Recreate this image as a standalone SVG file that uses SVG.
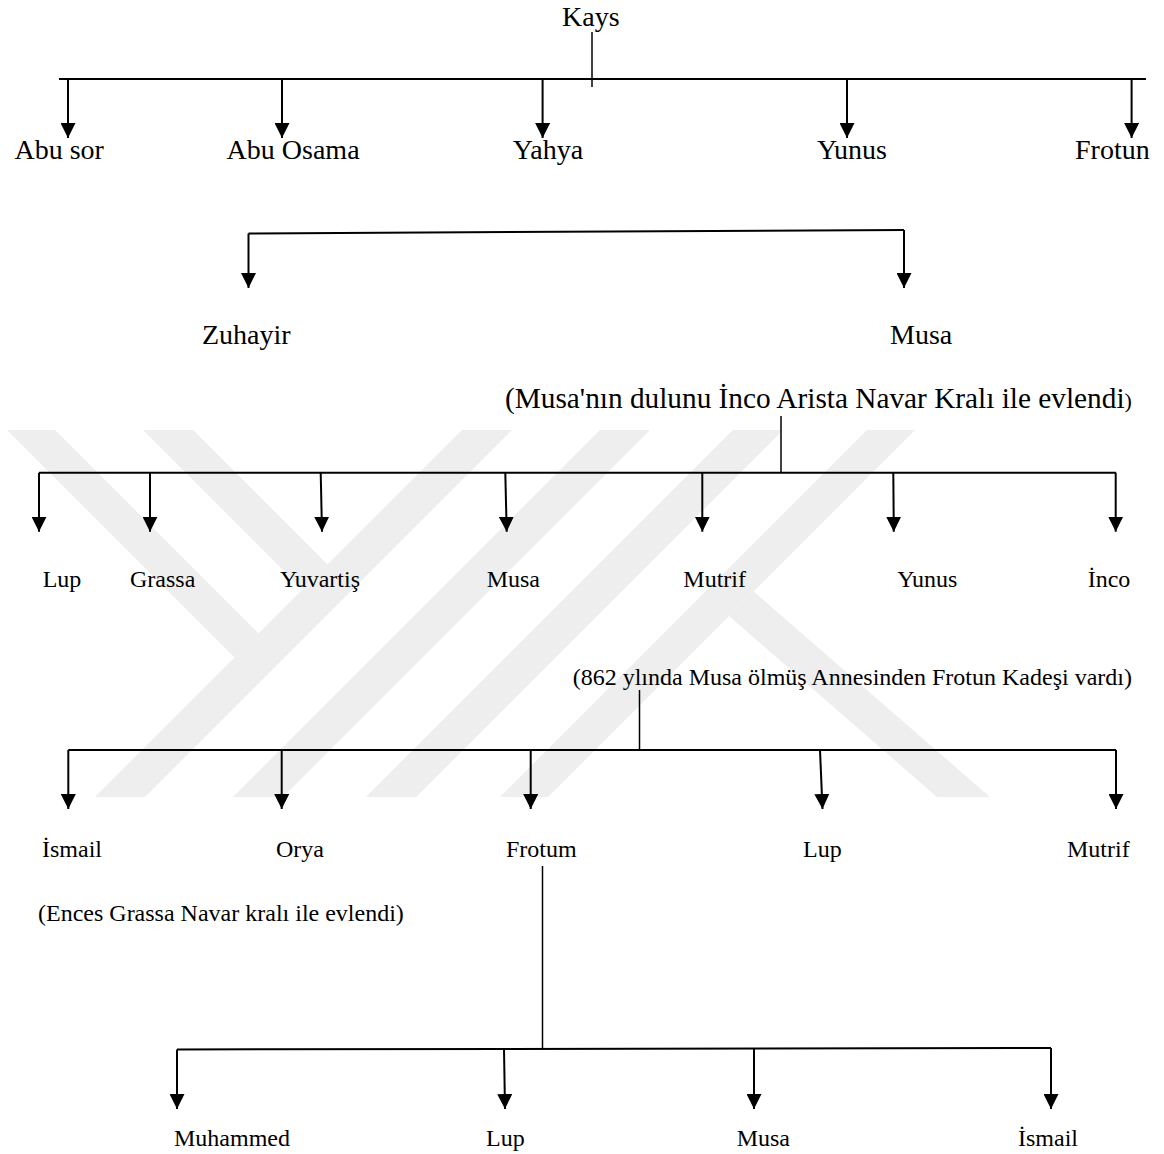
<svg xmlns="http://www.w3.org/2000/svg" width="1164" height="1154" viewBox="0 0 1164 1154">
<style>
text{font-family:"Liberation Serif","Times New Roman",serif;fill:#000}
.l1{font-size:28px}
.l2{font-size:24px}
.c{stroke:#000;stroke-width:2;fill:none}
.s{stroke:#000;stroke-width:1.5;fill:none}
.a{stroke:#000;stroke-width:2;fill:none;marker-end:url(#ah)}
.wm{fill:#eeeeee}
</style>
<defs>
<marker id="ah" viewBox="0 0 15 15" refX="15" refY="7.5" markerWidth="15" markerHeight="15" markerUnits="userSpaceOnUse" orient="auto">
<path d="M0,0 L15,7.5 L0,15 z" fill="#000"/>
</marker>
</defs>
<rect width="1164" height="1154" fill="#fff"/>
<g id="watermark">
<polygon class="wm" points="7,430 55,430 258.5,633.5 234.5,657.5"/>
<polygon class="wm" points="143,430 193,430 327.5,564.5 302.5,589.5"/>
<polygon class="wm" points="462,430 512,430 145,797 95,797"/>
<polygon class="wm" points="600,430 650,430 283,797 233,797"/>
<polygon class="wm" points="733,430 783,430 416,797 366,797"/>
<polygon class="wm" points="867,430 915,430 548,797 500,797"/>
<polygon class="wm" points="729,616 753.6,591.4 990,797 937,797"/>
</g>
<g id="connectors">
<line class="s" x1="592" y1="32" x2="592" y2="87"/>
<line class="c" x1="59" y1="79" x2="1146" y2="79"/>
<line class="a" x1="68" y1="79" x2="68" y2="138"/>
<line class="a" x1="282" y1="79" x2="282" y2="138"/>
<line class="a" x1="542.6" y1="79" x2="542.6" y2="138"/>
<line class="a" x1="847" y1="79" x2="847" y2="138"/>
<line class="a" x1="1131.6" y1="79" x2="1131.6" y2="138"/>
<line class="c" x1="248.5" y1="233.5" x2="904" y2="230"/>
<line class="a" x1="248.5" y1="233.5" x2="248.5" y2="288"/>
<line class="a" x1="904" y1="230" x2="904" y2="288"/>
<line class="s" x1="781" y1="416" x2="781" y2="472.7"/>
<line class="c" x1="39" y1="472.7" x2="1116" y2="472.7"/>
<line class="a" x1="39" y1="472.7" x2="39" y2="531.7"/>
<line class="a" x1="150" y1="472.7" x2="150" y2="531.7"/>
<line class="a" x1="320.7" y1="472.7" x2="322" y2="531.7"/>
<line class="a" x1="505.3" y1="472.7" x2="506.7" y2="531.7"/>
<line class="a" x1="702.3" y1="472.7" x2="702.3" y2="531.7"/>
<line class="a" x1="893.3" y1="472.7" x2="893.8" y2="531.7"/>
<line class="a" x1="1115.7" y1="472.7" x2="1115.7" y2="531.7"/>
<line class="s" x1="639.5" y1="690" x2="639.5" y2="750"/>
<line class="c" x1="68.3" y1="750" x2="1116" y2="750"/>
<line class="a" x1="68.3" y1="750" x2="68.3" y2="809"/>
<line class="a" x1="281.7" y1="750" x2="281.7" y2="809"/>
<line class="a" x1="530.7" y1="750" x2="530.7" y2="809"/>
<line class="a" x1="820" y1="750" x2="822.5" y2="809"/>
<line class="a" x1="1116" y1="750" x2="1116" y2="809"/>
<line class="s" x1="542.5" y1="866" x2="542.5" y2="1048.5"/>
<line class="c" x1="177" y1="1049.5" x2="1051" y2="1048"/>
<line class="a" x1="177" y1="1049.5" x2="177" y2="1109"/>
<line class="a" x1="504" y1="1049" x2="505" y2="1109"/>
<line class="a" x1="754" y1="1048.5" x2="754" y2="1109"/>
<line class="a" x1="1051" y1="1048" x2="1051" y2="1109"/>
</g>
<g id="n-kays"><text class="l1" x="562" y="26">Kays</text></g>
<g id="n-abusor"><text class="l1" x="14.5" y="159">Abu sor</text></g>
<g id="n-abuosama"><text class="l1" x="226.6" y="159">Abu Osama</text></g>
<g id="n-yahya"><text class="l1" x="512.8" y="159">Yahya</text></g>
<g id="n-yunus1"><text class="l1" x="817" y="159">Yunus</text></g>
<g id="n-frotun1"><text class="l1" x="1075" y="159">Frotun</text></g>
<g id="n-zuhayir"><text class="l1" x="202" y="344">Zuhayir</text></g>
<g id="n-musa1"><text class="l1" x="890" y="344">Musa</text></g>
<g id="n-note1"><text class="l1" x="505" y="408" style="font-size:29.3px">(Musa'nın dulunu İnco Arista Navar Kralı ile evlendi<tspan style="font-size:22px">)</tspan></text></g>
<g id="n-lup1"><text class="l2" x="42.7" y="587">Lup</text></g>
<g id="n-grassa"><text class="l2" x="130" y="587">Grassa</text></g>
<g id="n-yuvartis"><text class="l2" x="280" y="587">Yuvartiş</text></g>
<g id="n-musa2"><text class="l2" x="486.7" y="587">Musa</text></g>
<g id="n-mutrif1"><text class="l2" x="683.3" y="587">Mutrif</text></g>
<g id="n-yunus2"><text class="l2" x="897.3" y="587">Yunus</text></g>
<g id="n-inco"><text class="l2" x="1087.7" y="587">İnco</text></g>
<g id="n-note2"><text class="l2" x="572.7" y="685">(862 ylında Musa ölmüş Annesinden Frotun Kadeşi vardı)</text></g>
<g id="n-ismail1"><text class="l2" x="42" y="856.5">İsmail</text></g>
<g id="n-orya"><text class="l2" x="276" y="856.5">Orya</text></g>
<g id="n-frotum"><text class="l2" x="506" y="856.5">Frotum</text></g>
<g id="n-lup2"><text class="l2" x="803" y="856.5">Lup</text></g>
<g id="n-mutrif2"><text class="l2" x="1067" y="856.5">Mutrif</text></g>
<g id="n-note3"><text class="l2" x="38" y="921">(Ences Grassa Navar kralı ile evlendi)</text></g>
<g id="n-muhammed"><text class="l2" x="174" y="1146">Muhammed</text></g>
<g id="n-lup3"><text class="l2" x="486" y="1146">Lup</text></g>
<g id="n-musa3"><text class="l2" x="736.7" y="1146">Musa</text></g>
<g id="n-ismail2"><text class="l2" x="1018" y="1146">İsmail</text></g>
</svg>
